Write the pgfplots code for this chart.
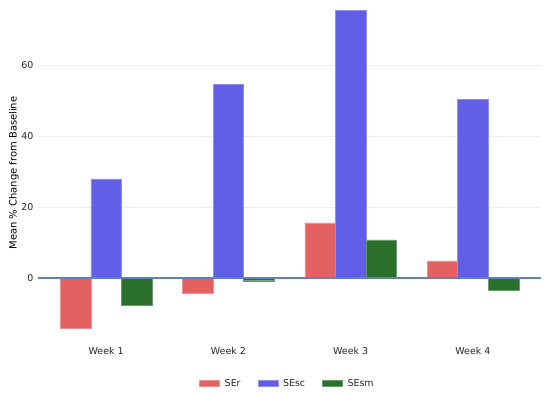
\documentclass[border=0pt]{standalone}
\usepackage{pgfplots}
\pgfplotsset{compat=1.18}
\usepackage{fontspec}
\setmainfont{DejaVu Sans}
\definecolor{cSEr}{RGB}{229,96,96}
\definecolor{cSEsc}{RGB}{97,95,230}
\definecolor{cSEsm}{RGB}{43,112,43}
\definecolor{zline}{RGB}{88,130,200}
\begin{document}
\begin{tikzpicture}
\useasboundingbox (0,0) rectangle (550bp,395bp);
\begin{axis}[
  at={(38bp,55bp)}, anchor=south west,
  scale only axis, width=503bp, height=330bp,
  xmin=-0.557, xmax=3.557, ymin=-17.5, ymax=75.5,
  ybar, bar width=0.25,
  xtick={0,1,2,3}, xticklabels={Week 1,Week 2,Week 3,Week 4},
  ytick={0,20,40,60},
  axis line style={draw=none},
  major tick length=0pt,
  ymajorgrids, grid style={color=black!7, line width=0.7pt},
  tick label style={font=\fontsize{9.5}{11}\selectfont, text=black!85},
  /pgf/number format/assume math mode=true,
  xticklabel style={yshift=-4bp},
  yticklabel style={xshift=-1bp},
  ylabel={Mean \% Change from Baseline},
  ylabel style={font=\fontsize{9.5}{11}\selectfont, text=black!85},
  every axis y label/.style={at={(-24bp,167bp)}, rotate=90, anchor=center},
  legend style={at={(0.5,-0.1)}, anchor=north, draw=none, legend columns=3,
    font=\fontsize{9.5}{11}\selectfont, text=black!85, yshift=-2bp, xshift=-2bp,
    /tikz/every odd column/.append style={column sep=3bp},
    /tikz/every even column/.append style={column sep=15bp}},
  legend image code/.code={\fill[#1] (0bp,-3bp) rectangle (20bp,3bp);},
  clip=false,
]
\addplot[fill=cSEr, draw=cSEr!70!white, bar shift=-0.25] coordinates {(0,-14.1) (1,-4.2) (2,15.5) (3,4.8)};
\addplot[fill=cSEsc, draw=cSEsc!70!white, bar shift=0] coordinates {(0,27.9) (1,54.6) (2,75.5) (3,50.4)};
\addplot[fill=cSEsm, draw=cSEsm!70!white, bar shift=0.25] coordinates {(0,-7.6) (1,-0.8) (2,10.7) (3,-3.4)};
\legend{SEr,SEsc,SEsm}
\draw[zline, line width=1.2pt] (axis cs:-0.557,0) -- (axis cs:3.557,0);
\end{axis}
\end{tikzpicture}
\end{document}
